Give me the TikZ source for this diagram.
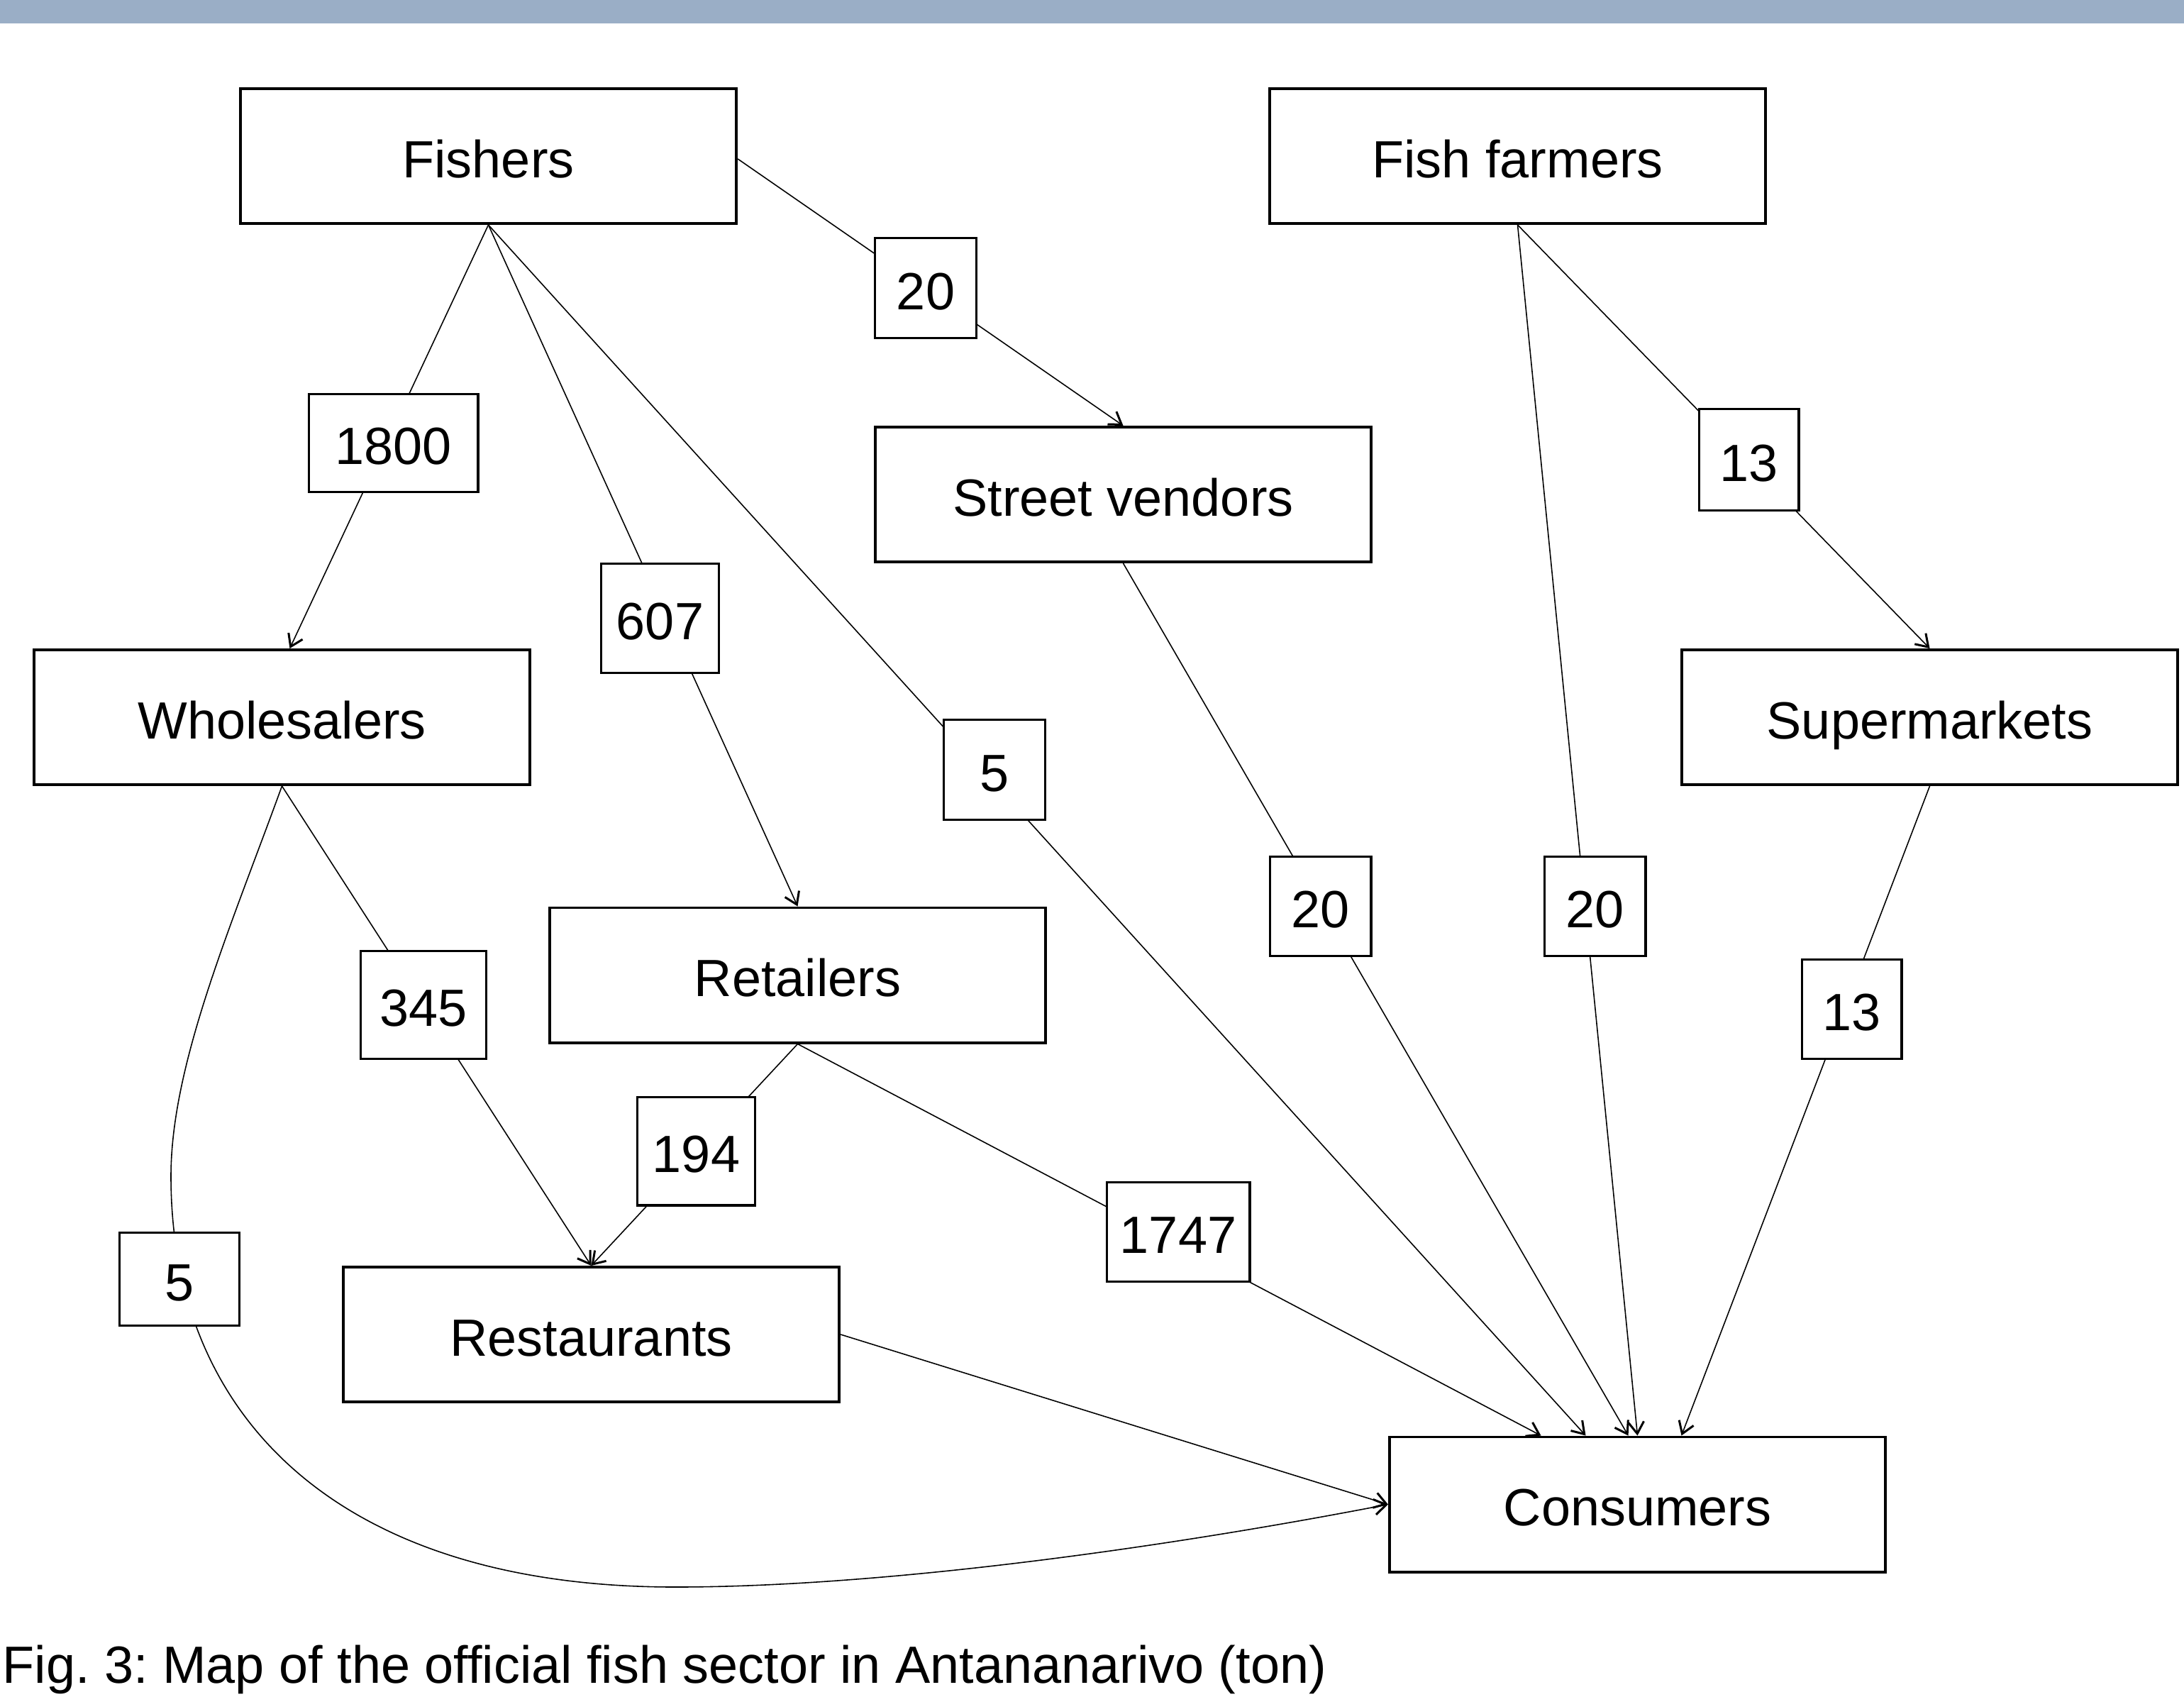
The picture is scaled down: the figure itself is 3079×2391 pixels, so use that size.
\documentclass[tikz,border=0pt]{standalone}
\usepackage{fontspec}
\setmainfont{Liberation Sans}
\usetikzlibrary{arrows.meta,calc}
\definecolor{barblue}{RGB}{154,174,198}
\frenchspacing
\begin{document}
\begin{tikzpicture}[x=0.01cm,y=-0.01cm,
  txt/.style={font=\fontsize{21}{25}\selectfont},
  box/.style={txt,draw,fill=white,line width=1.1pt,minimum width=6.99cm,minimum height=1.90cm,inner sep=0pt,text height=17.1pt,text depth=0pt},
  lbl/.style={txt,draw,fill=white,line width=1.1pt,inner sep=0pt,text height=17.1pt,text depth=0pt},
  conn/.style={line width=0.45pt},
  arr/.style={conn,-{Straight Barb[length=4.7pt,width=6.2pt,line width=0.85pt]}}]
\useasboundingbox (0,0) rectangle (3079,2391);
\fill[barblue] (0,0) rectangle (3079,33);
% main boxes
\node[box] (Fishers) at (688.5,220) {Fishers};
\node[box] (FishFarmers) at (2139.5,220) {Fish farmers};
\node[box] (Street) at (1583.5,697) {Street vendors};
\node[box] (Wholesalers) at (397.5,1011) {Wholesalers};
\node[box] (Supermarkets) at (2720.5,1011) {Supermarkets};
\node[box] (Retailers) at (1124.5,1374.5) {Retailers};
\node[box] (Restaurants) at (833.5,1881) {Restaurants};
\node[box] (Consumers) at (2308.5,2120.5) {Consumers};
% connectors
\draw[arr] ($(Fishers.east)+(0,4)$) -- (Street.north);
\draw[arr] (Fishers.south) -- ($(Wholesalers.north)+(11,0)$);
\draw[arr] (Fishers.south) -- (Retailers.north);
\draw[arr] (Fishers.south) -- ($(Consumers.north)+(-73,0)$);
\draw[arr] (FishFarmers.south) -- (Supermarkets.north);
\draw[arr] (FishFarmers.south) -- (Consumers.north);
\draw[arr] (Street.south) -- ($(Consumers.north)+(-13,0)$);
\draw[arr] (Supermarkets.south) -- ($(Consumers.north)+(62,0)$);
\draw[arr] (Wholesalers.south) -- (Restaurants.north);
\draw[arr] (Retailers.south) -- (Restaurants.north);
\draw[arr] (Retailers.south) -- ($(Consumers.north)+(-136,0)$);
\draw[arr] (Restaurants.east) -- (Consumers.west);
\draw[arr] (Wholesalers.south) .. controls (326,1305) and (241,1500) .. (241,1658)
  .. controls (241,2000) and (480,2237) .. (952,2237)
  .. controls (1250,2237) and (1650,2180) .. (Consumers.west);
% flow labels
\node[lbl,minimum width=1.43cm,minimum height=1.41cm] (lFS20) at (1305,406) {20};
\node[lbl,minimum width=2.38cm,minimum height=1.38cm] (l1800) at (554.5,624.5) {1800};
\node[lbl,minimum width=1.66cm,minimum height=1.54cm] (l607) at (930.5,871.5) {607};
\node[lbl,minimum width=1.43cm,minimum height=1.41cm] (lF5) at (1402,1085) {5};
\node[lbl,minimum width=1.40cm,minimum height=1.43cm] (lFF13) at (2465.5,648) {13};
\node[lbl,minimum width=1.42cm,minimum height=1.40cm] (lSV20) at (1861.5,1277.5) {20};
\node[lbl,minimum width=1.42cm,minimum height=1.40cm] (lFF20) at (2248.5,1277.5) {20};
\node[lbl,minimum width=1.40cm,minimum height=1.40cm] (lSM13) at (2610.5,1422.5) {13};
\node[lbl,minimum width=1.77cm,minimum height=1.52cm] (l345) at (597,1416.5) {345};
\node[lbl,minimum width=1.66cm,minimum height=1.52cm] (l194) at (981.5,1622.5) {194};
\node[lbl,minimum width=2.01cm,minimum height=1.40cm] (l1747) at (1661,1736.5) {1747};
\node[lbl,minimum width=1.69cm,minimum height=1.31cm] (lW5) at (253,1803) {5};
% caption
\node[txt,anchor=base west,inner sep=0pt] (caption) at (3,2372) {Fig. 3: Map of the official fish sector in Antananarivo (ton)};
\end{tikzpicture}
\end{document}
